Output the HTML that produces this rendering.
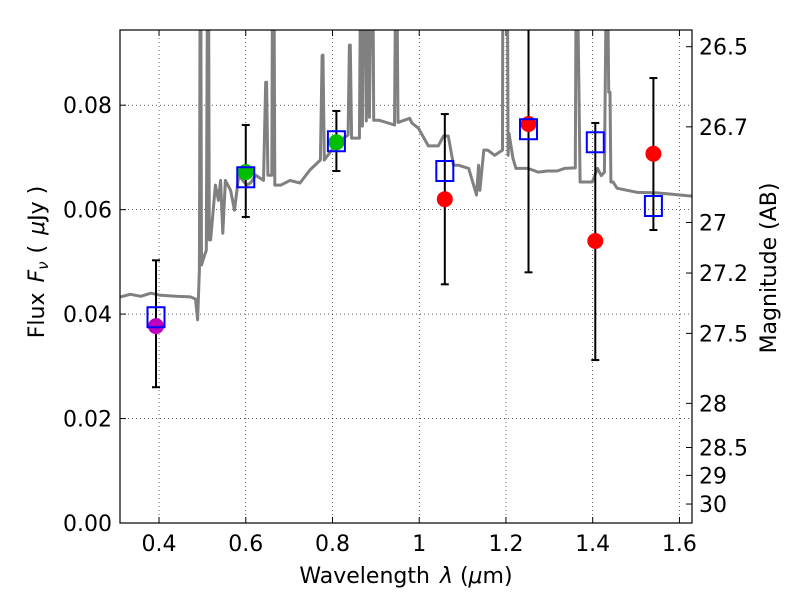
<!DOCTYPE html>
<html><head><meta charset="utf-8"><style>
body{margin:0;background:#fff}
svg text{font-family:"DejaVu Sans","Liberation Sans",sans-serif;fill:#000}
</style></head><body>
<svg id="chart" width="800" height="600"></svg>
<script>
const specWl=[0.311,0.334,0.358,0.381,0.404,0.439,0.472,0.484,0.489,0.493,0.495,0.496,0.498,0.505,0.509,0.512,0.514,0.516,0.519,0.530,0.537,0.542,0.547,0.553,0.565,0.574,0.584,0.593,0.602,0.611,0.623,0.641,0.646,0.648,0.651,0.660,0.662,0.665,0.667,0.681,0.702,0.725,0.748,0.772,0.776,0.778,0.781,0.806,0.818,0.836,0.839,0.841,0.844,0.862,0.865,0.867,0.869,0.873,0.876,0.878,0.881,0.885,0.890,0.893,0.895,0.899,0.908,0.943,0.946,0.948,0.951,0.978,0.983,0.998,1.021,1.044,1.056,1.067,1.079,1.091,1.114,1.132,1.137,1.140,1.149,1.158,1.174,1.192,1.193,1.195,1.203,1.205,1.207,1.216,1.223,1.251,1.274,1.295,1.318,1.335,1.360,1.362,1.364,1.371,1.373,1.376,1.399,1.411,1.420,1.427,1.432,1.434,1.437,1.440,1.442,1.447,1.456,1.503,1.549,1.629];
const specFlux=[0.0433,0.0438,0.0434,0.0440,0.0436,0.0434,0.0433,0.0429,0.0389,0.0484,0.11,0.11,0.0494,0.0513,0.0522,0.11,0.11,0.0542,0.0542,0.0647,0.0618,0.0656,0.0555,0.0656,0.0637,0.0599,0.0666,0.0656,0.0647,0.0651,0.0666,0.0656,0.0844,0.0844,0.0666,0.0666,0.11,0.11,0.0647,0.0647,0.0656,0.0651,0.0676,0.0695,0.0895,0.0896,0.0695,0.0723,0.0733,0.0743,0.0915,0.0915,0.0737,0.0737,0.11,0.11,0.0760,0.11,0.11,0.0770,0.11,0.0777,0.11,0.11,0.0771,0.0771,0.0771,0.0762,0.11,0.11,0.0767,0.0775,0.0766,0.0756,0.0722,0.0722,0.0741,0.0741,0.0685,0.0685,0.0679,0.0628,0.0685,0.0637,0.0714,0.0714,0.0704,0.0714,0.11,0.11,0.11,0.0704,0.0746,0.0699,0.0679,0.0679,0.0672,0.0674,0.0674,0.0679,0.0680,0.11,0.11,0.0653,0.0653,0.0653,0.0653,0.0679,0.0665,0.0672,0.11,0.11,0.0825,0.0825,0.0653,0.0653,0.0641,0.0633,0.0632,0.0626];
const bandWl=[0.393,0.600,0.809,1.059,1.252,1.406,1.540];
const obsFlux=[0.0377,0.0672,0.0729,0.0620,0.0764,0.0540,0.0707];
const errLo=[0.0260,0.0586,0.0674,0.0457,0.0480,0.0312,0.0561];
const errHi=[0.0503,0.0762,0.0789,0.0783,0.0970,0.0766,0.0852];
const obsColor=['#bf00bf','#00bf00','#00bf00','#ff0000','#ff0000','#ff0000','#ff0000'];
const modelFlux=[0.0394,0.0662,0.0731,0.0674,0.0754,0.0729,0.0607];
const xTicks=[0.4,0.6,0.8,1.0,1.2,1.4,1.6];
const xTickLabels=['0.4','0.6','0.8','1','1.2','1.4','1.6'];
const yTicks=[0,0.02,0.04,0.06,0.08];
const yTickLabels=['0.00','0.02','0.04','0.06','0.08'];
const magTicks=[26.5,26.7,27,27.2,27.5,28,28.5,29,30];
const magTickLabels=['26.5','26.7','27','27.2','27.5','28','28.5','29','30'];

const L=120,R=692,T=30,B=523,xmin=0.310,xmax=1.629,ymin=0,ymax=0.0944;
const sx=v=>L+(v-xmin)/(xmax-xmin)*(R-L);
const sy=v=>B-(v-ymin)/(ymax-ymin)*(B-T);
const NS='http://www.w3.org/2000/svg';
const svg=document.getElementById('chart');
function mk(tag,attrs,parent){const e=document.createElementNS(NS,tag);for(const k in attrs)e.setAttribute(k,attrs[k]);(parent||svg).appendChild(e);return e;}
const defs=mk('defs',{});const cp=mk('clipPath',{id:'clip'},defs);mk('rect',{x:L,y:T,width:R-L,height:B-T},cp);

xTicks.forEach((t,i)=>{const x=sx(t);
 const g=mk('line',{x1:x,x2:x,y1:T,y2:B,stroke:'#000','stroke-width':0.6,'stroke-dasharray':'1,3'});
 
 mk('line',{x1:x,x2:x,y1:B,y2:B-6,stroke:'#000'});mk('line',{x1:x,x2:x,y1:T,y2:T+6,stroke:'#000'});
 const tx=mk('text',{x:x,y:B+28,'text-anchor':'middle','font-size':22});tx.textContent=xTickLabels[i];
 });
yTicks.forEach((t,i)=>{const y=sy(t);
 if(t>0){const g=mk('line',{x1:L,x2:R,y1:y,y2:y,stroke:'#000','stroke-width':0.6,'stroke-dasharray':'1,3'});
 }
 mk('line',{x1:L,x2:L+6,y1:y,y2:y,stroke:'#000'});
 const tx=mk('text',{x:L-8,y:y+8,'text-anchor':'end','font-size':22});tx.textContent=yTickLabels[i];
 });
magTicks.forEach((m,i)=>{const f=Math.pow(10,(23.9-m)/2.5);const y=sy(f);
 mk('line',{x1:R,x2:R-6,y1:y,y2:y,stroke:'#000'});
 const tx=mk('text',{x:R+7,y:y+8,'font-size':22});tx.textContent=magTickLabels[i];
 });

const g=mk('g',{'clip-path':'url(#clip)'});
const pts=specWl.map((w,i)=>sx(w).toFixed(1)+','+sy(specFlux[i]).toFixed(1)).join(' ');
const sp=mk('polyline',{points:pts,fill:'none',stroke:'#808080','stroke-width':3,'stroke-linejoin':'round'},g);

bandWl.forEach((w,i)=>{const x=sx(w);
 const e=mk('g',{},g);
 mk('line',{x1:x,x2:x,y1:sy(errLo[i]),y2:sy(errHi[i]),stroke:'#000','stroke-width':2},e);
 mk('line',{x1:x-4,x2:x+4,y1:sy(errLo[i]),y2:sy(errLo[i]),stroke:'#000','stroke-width':2},e);
 mk('line',{x1:x-4,x2:x+4,y1:sy(errHi[i]),y2:sy(errHi[i]),stroke:'#000','stroke-width':2},e);});
bandWl.forEach((w,i)=>{const x=sx(w);
 const c=mk('circle',{cx:x,cy:sy(obsFlux[i]),r:8,fill:obsColor[i]},g);
 });
bandWl.forEach((w,i)=>{const x=sx(w);
 const r=mk('rect',{x:x-8.5,y:sy(modelFlux[i])-10,width:17,height:20,fill:'none',stroke:'#0000ff','stroke-width':2},g);
 });

const fr=mk('rect',{x:L,y:T,width:R-L,height:B-T,fill:'none',stroke:'#000','stroke-width':1.2});

const xt=mk('text',{x:406,y:583,'text-anchor':'middle','font-size':22});
xt.innerHTML='Wavelength<tspan dx="10" font-style="italic">λ</tspan> (<tspan font-style="italic">μ</tspan>m)';

const yt=mk('text',{x:0,y:0,'text-anchor':'middle','font-size':22,transform:'translate(44,262) rotate(-90)'});
yt.innerHTML='Flux<tspan dx="10" font-style="italic">F</tspan><tspan font-style="italic" font-size="15" dy="4">ν</tspan><tspan dy="-4" dx="8">(</tspan><tspan dx="10" font-style="italic">μ</tspan>Jy )';

const rt=mk('text',{x:0,y:0,'text-anchor':'middle','font-size':22,transform:'translate(776,268) rotate(-90)'});
rt.textContent='Magnitude (AB)';

</script>
</body></html>
